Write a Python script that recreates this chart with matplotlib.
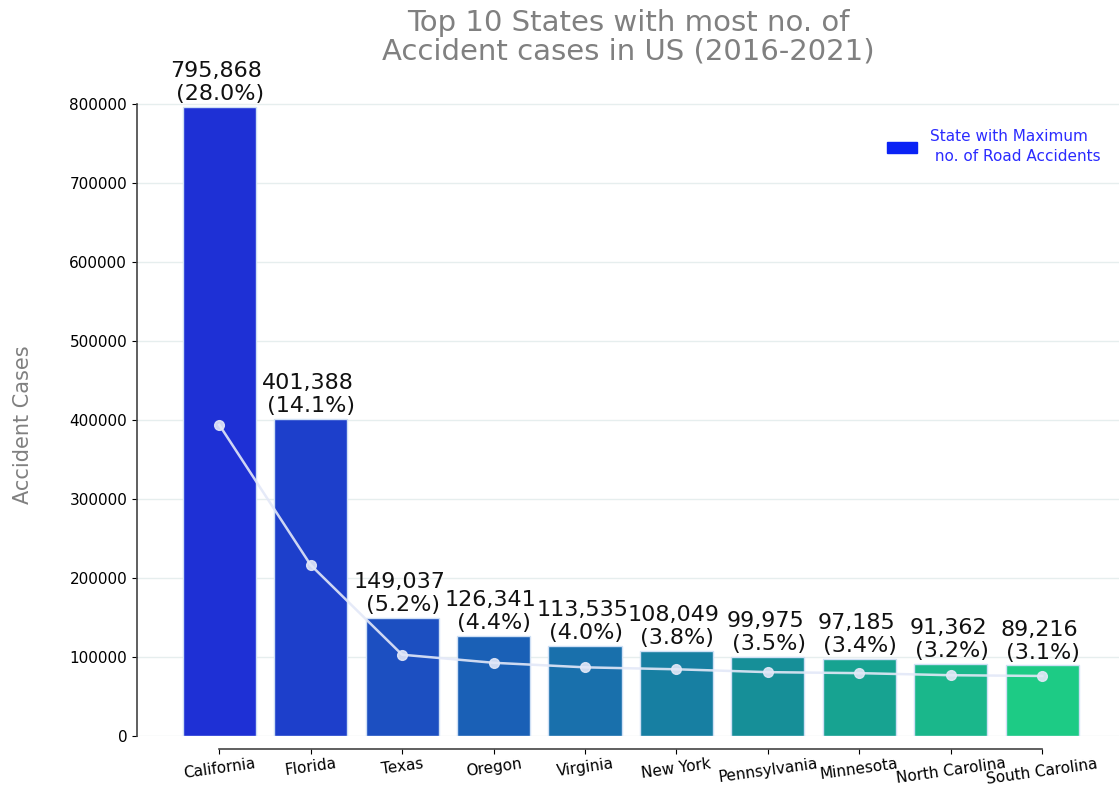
import numpy as np
import matplotlib
matplotlib.use('Agg')
import matplotlib.pyplot as plt
import matplotlib.patches as mpatches
import seaborn as sns

# Datos de los 10 estados con más accidentes
estados = ['California', 'Florida', 'Texas', 'Oregon', 'Virginia', 'New York',
           'Pennsylvania', 'Minnesota', 'North Carolina', 'South Carolina']
casos = [795868, 401388, 149037, 126341, 113535, 108049, 99975, 97185, 91362, 89216]
porcentajes = [28.0, 14.1, 5.2, 4.4, 4.0, 3.8, 3.5, 3.4, 3.2, 3.1]
yticks = [0, 100000, 200000, 300000, 400000, 500000, 600000, 700000, 800000]

colores = sns.color_palette('winter', len(estados), desat=0.75)

fig = plt.figure(figsize=(11.19, 7.87), dpi=100)
ax = fig.add_axes([0.1224, 0.0648, 0.8776, 0.8386])

x = np.arange(len(estados))
ax.bar(x, casos, width=0.8, color=colores, edgecolor='#cfe0f5', linewidth=1, zorder=2)

# Etiquetas sobre cada barra
for xi, c, p in zip(x, casos, porcentajes):
    ax.annotate(f'{c:,}\n ({p}%)', (xi, c), xytext=(-2, 2), textcoords='offset points',
                ha='center', va='bottom', fontsize=16, color='#111111')

ax.set_xlim(-0.9, 9.84)
ax.set_ylim(0, 835000)
ax.set_yticks(yticks)
ax.set_yticklabels([str(v) for v in yticks])
ax.set_xticks(x)
ax.set_xticklabels(estados)
ax.tick_params(axis='y', labelsize=11)
ax.tick_params(axis='x', labelsize=11, labelrotation=8, pad=2)
ax.grid(axis='y', color='#e6eeee', linewidth=1, zorder=0)
ax.set_axisbelow(True)

# Estilo de ejes (tipo despine con trim)
ax.spines['top'].set_visible(False)
ax.spines['right'].set_visible(False)
ax.spines['bottom'].set_position(('outward', 9))
ax.spines['bottom'].set_bounds(0, 9)
ax.spines['left'].set_bounds(0, 800000)
for s in ['left', 'bottom']:
    ax.spines[s].set_color('#444444')
    ax.spines[s].set_linewidth(1.2)

ax.set_ylabel('Accident Cases', fontsize=15, color='grey')
ax.yaxis.set_label_coords(-0.106, 0.471)
ax.set_title('Top 10 States with most no. of\nAccident cases in US (2016-2021)',
             fontsize=21, color='grey', pad=12, linespacing=1.0)

# Línea de tendencia en un eje secundario
ax2 = ax.twinx()
ax2.plot(x, casos, color='#e3e8f8', marker='o', markersize=7, linewidth=1.8, alpha=0.9)
ax2.set_ylim(-79713, 1777500)
ax2.axis('off')

# Leyenda
parche = mpatches.Patch(color='#0a22f5', label='State with Maximum\n no. of Road Accidents')
leg = ax.legend(handles=[parche], loc='upper right', frameon=False, fontsize=11,
                bbox_to_anchor=(0.995, 0.94), labelspacing=0.5)
for t in leg.get_texts():
    t.set_color('#2b2bff')
    t.set_linespacing(1.4)

plt.savefig('out.png', dpi=100)
